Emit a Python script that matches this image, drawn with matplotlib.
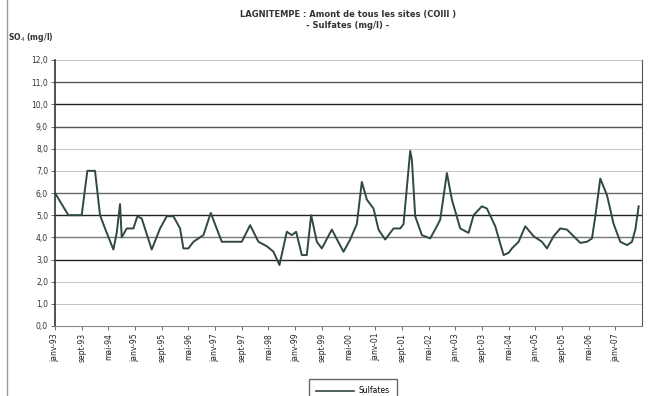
import matplotlib.pyplot as plt
from matplotlib.lines import Line2D

# month index (0 = janv-93) and sulfate values (mg/l)
mois = [0, 4, 8, 9.7, 12, 13.5, 15, 17.5, 18.5, 19.5, 20, 21.5, 23.5, 24.7, 26,
        29, 31.5, 33.5, 35.5, 37.5, 38.5, 40, 41.5, 44.5, 46.7, 50, 53, 56, 58.5,
        61, 63.5, 65.5, 67.3, 69.5, 71, 72.3, 74, 75.5, 76.8, 78.5, 80, 83, 86.5,
        88.5, 89.5, 90.5, 92, 93.5, 95.5, 97, 99, 101.5, 103.5, 104.5, 106.5, 107,
        108, 110, 112.5, 114.5, 115.5, 117.5, 119, 121.5, 124, 125.5, 128, 129.5,
        132, 134.5, 136, 137, 139, 141, 143.5, 146, 147.5, 149.5, 151.5, 153.5,
        155.5, 157.5, 159.5, 161, 162, 163.5, 165.5, 167.5, 169.5, 171.5, 173,
        174, 175]
sulfates = [6.0, 5.0, 5.0, 7.0, 7.0, 5.0, 4.4, 3.45, 4.2, 5.5, 4.0, 4.4, 4.4, 4.95,
            4.85, 3.45, 4.4, 4.95, 4.95, 4.4, 3.5, 3.5, 3.8, 4.1, 5.1, 3.8, 3.8, 3.8,
            4.55, 3.8, 3.6, 3.35, 2.75, 4.25, 4.1, 4.25, 3.2, 3.2, 5.0, 3.8, 3.5, 4.35,
            3.35, 3.9, 4.25, 4.6, 6.5, 5.7, 5.3, 4.35, 3.9, 4.4, 4.4, 4.6, 7.9, 7.5,
            4.95, 4.1, 3.95, 4.5, 4.8, 6.9, 5.7, 4.4, 4.2, 5.0, 5.4, 5.3, 4.5, 3.2,
            3.3, 3.5, 3.8, 4.5, 4.05, 3.8, 3.5, 4.05, 4.4, 4.35, 4.05, 3.75, 3.8,
            3.95, 4.95, 6.65, 5.9, 4.6, 3.8, 3.65, 3.8, 4.35, 5.4]

tick_labels = ["janv-93", "sept-93", "mai-94", "janv-95", "sept-95", "mai-96",
               "janv-97", "sept-97", "mai-98", "janv-99", "sept-99", "mai-00",
               "janv-01", "sept-01", "mai-02", "janv-03", "sept-03", "mai-04",
               "janv-05", "sept-05", "mai-06", "janv-07"]
y_ticks = [0, 1, 2, 3, 4, 5, 6, 7, 8, 9, 10, 11, 12]

fig = plt.figure(figsize=(6.56, 3.96), dpi=100)
ax = fig.add_axes([55 / 656, 1 - 326 / 396, 587 / 656, 266 / 396])

# horizontal grid, some lines darker as on the scan
dark = {3: '#222222', 5: '#222222', 10: '#222222', 4: '#777777', 6: '#666666',
        9: '#555555', 11: '#555555'}
for v in y_ticks[1:]:
    ax.axhline(v, color=dark.get(v, '#c4c4c4'), lw=1.0 if v in dark else 0.7, zorder=1)

ax.plot(mois, sulfates, color='#2f4a3c', lw=1.4, zorder=3,
        solid_joinstyle='round')

ax.set_xlim(0, 176)
ax.set_ylim(0, 12)
ax.set_yticks(y_ticks)
ax.set_yticklabels([f"{v},0" for v in y_ticks], fontsize=5.5, color='#333333')
ax.set_xticks(range(0, 176, 8))
ax.set_xticklabels(tick_labels, rotation=90, fontsize=5.5, color='#222222',
                   va='top')
ax.tick_params(axis='both', length=3, width=0.6, color='#555555', pad=2)

ax.spines['top'].set_visible(False)
ax.spines['left'].set_color('#333333')
ax.spines['left'].set_linewidth(1.2)
ax.spines['bottom'].set_color('#888888')
ax.spines['right'].set_color('#555555')

fig.text(348 / 656, 1 - 14 / 396, "LAGNITEMPE : Amont de tous les sites (COIII )",
         ha='center', va='center', fontsize=6, fontweight='bold', color='#333333')
fig.text(348 / 656, 1 - 26 / 396, "- Sulfates (mg/l) -", ha='center', va='center',
         fontsize=6, fontweight='bold', color='#333333')
fig.text(8 / 656, 1 - 38 / 396, "SO$_4$ (mg/l)", ha='left', va='center',
         fontsize=5.5, fontweight='bold', color='#333333')

# left border of the chart frame
fig.add_artist(Line2D([7 / 656, 7 / 656], [0, 1], color='#999999', lw=1))

handle = Line2D([], [], color='#2f4a3c', lw=1.2)
fig.legend([handle], ["Sulfates"], loc='lower center', bbox_to_anchor=(353 / 656, -0.025),
           fontsize=5.5, frameon=True, fancybox=False, edgecolor='#444444',
           handlelength=5, borderpad=0.9, handletextpad=0.6)

fig.savefig('out.png', dpi=100)
